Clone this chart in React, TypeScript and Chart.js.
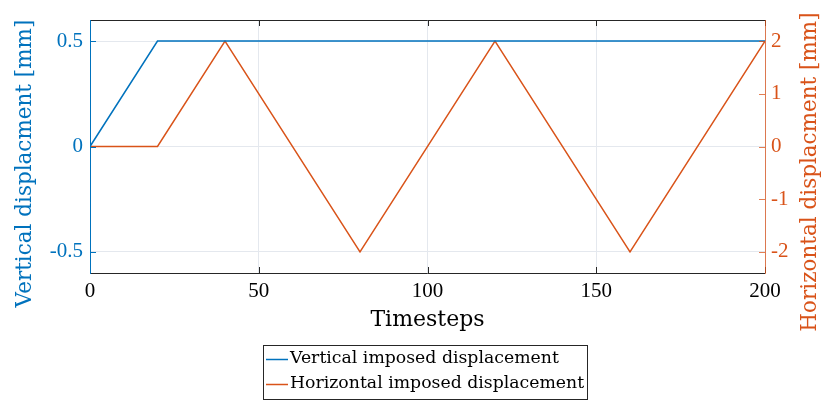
import React, { useEffect, useRef } from "react";
import { Chart, registerables } from "chart.js";

Chart.register(...registerables);

const timesteps = [0, 20, 40, 80, 120, 160, 200];
const verticalX = [0, 20, 200];
const verticalY = [0, 0.5, 0.5];
const horizontalY = [0, 0, 2, -2, 2, -2, 2];
const xTicks = [0, 50, 100, 150, 200];
const leftTicks = [-0.5, 0, 0.5];
const rightTicks = [-2, -1, 0, 1, 2];
const seriesLabels = ["Vertical imposed displacement", "Horizontal imposed displacement"];

const BLUE = "#0072BD";
const ORANGE = "#D95319";
const DARK = "#262626";
const FONT = "'DejaVu Serif', serif";
const TICK_FONT = "'Liberation Serif', serif";

const W = 825;
const H = 401;

const decorPlugin = {
  id: "decor",
  afterDraw(chart: any) {
    const { ctx, chartArea } = chart;
    const { left, right, top, bottom } = chartArea;
    const xs = chart.scales.x;
    const yl = chart.scales.y;
    const yr = chart.scales.y2;
    const tl = 6;
    ctx.save();
    ctx.lineWidth = 1;
    // top & bottom axes
    ctx.strokeStyle = DARK;
    ctx.beginPath();
    ctx.moveTo(left, top + 0.5);
    ctx.lineTo(right, top + 0.5);
    ctx.moveTo(left, bottom + 0.5);
    ctx.lineTo(right, bottom + 0.5);
    for (const t of xTicks) {
      const px = Math.round(xs.getPixelForValue(t)) + 0.5;
      ctx.moveTo(px, bottom);
      ctx.lineTo(px, bottom - tl);
      ctx.moveTo(px, top);
      ctx.lineTo(px, top + tl);
    }
    ctx.stroke();
    // left axis
    ctx.strokeStyle = BLUE;
    ctx.beginPath();
    ctx.moveTo(left + 0.5, top);
    ctx.lineTo(left + 0.5, bottom + 1);
    for (const t of leftTicks) {
      const py = Math.round(yl.getPixelForValue(t)) + 0.5;
      ctx.moveTo(left, py);
      ctx.lineTo(left + tl, py);
    }
    ctx.stroke();
    // right axis
    ctx.strokeStyle = "rgba(217,83,25,0.75)";
    ctx.beginPath();
    ctx.moveTo(right + 0.5, top);
    ctx.lineTo(right + 0.5, bottom + 1);
    for (const t of rightTicks) {
      const py = Math.round(yr.getPixelForValue(t)) + 0.5;
      ctx.moveTo(right, py);
      ctx.lineTo(right - tl, py);
    }
    ctx.stroke();

    // axis titles
    ctx.fillStyle = BLUE;
    ctx.font = `21.5px ${FONT}`;
    ctx.textAlign = "center";
    ctx.textBaseline = "middle";
    ctx.save();
    ctx.translate(25, 163.5);
    ctx.rotate(-Math.PI / 2);
    ctx.fillText("Vertical displacment [mm]", 0, 0);
    ctx.restore();
    ctx.fillStyle = ORANGE;
    ctx.save();
    ctx.translate(810, 172);
    ctx.rotate(-Math.PI / 2);
    ctx.fillText("Horizontal displacment [mm]", 0, 0);
    ctx.restore();
    ctx.fillStyle = "#000";
    ctx.font = `22px ${FONT}`;
    ctx.fillText("Timesteps", (left + right) / 2, 320);

    // legend
    const lx = 263, ly = 345, lw = 324, lh = 54;
    ctx.fillStyle = "#fff";
    ctx.fillRect(lx, ly, lw, lh);
    ctx.strokeStyle = DARK;
    ctx.strokeRect(lx + 0.5, ly + 0.5, lw, lh);
    ctx.font = `17.3px ${FONT}`;
    ctx.textAlign = "left";
    const cols = [BLUE, ORANGE];
    seriesLabels.forEach((lab, i) => {
      const yy = 359 + i * 25;
      ctx.strokeStyle = cols[i];
      ctx.lineWidth = 1.5;
      ctx.beginPath();
      ctx.moveTo(266, yy + 0.5);
      ctx.lineTo(288, yy + 0.5);
      ctx.stroke();
      ctx.fillStyle = "#000";
      ctx.fillText(lab, 290, yy);
    });
    ctx.restore();
  },
};

export default function App() {
  const ref = useRef<HTMLCanvasElement | null>(null);
  useEffect(() => {
    if (!ref.current) return;
    const chart = new Chart(ref.current, {
      type: "line",
      data: {
        datasets: [
          {
            label: seriesLabels[0],
            data: verticalX.map((x, i) => ({ x, y: verticalY[i] })),
            borderColor: BLUE,
            borderWidth: 1.5,
            pointRadius: 0,
            yAxisID: "y",
            tension: 0,
          },
          {
            label: seriesLabels[1],
            data: timesteps.map((x, i) => ({ x, y: horizontalY[i] })),
            borderColor: ORANGE,
            borderWidth: 1.5,
            pointRadius: 0,
            yAxisID: "y2",
            tension: 0,
          },
        ],
      },
      options: {
        animation: false,
        responsive: false,
        maintainAspectRatio: false,
        events: [],
        layout: { padding: { top: 20, left: 0, right: 0, bottom: 0 } },
        plugins: { legend: { display: false }, tooltip: { enabled: false } },
        scales: {
          x: {
            type: "linear",
            min: 0,
            max: 200,
            afterBuildTicks: (s: any) => {
              s.ticks = xTicks.map((v) => ({ value: v }));
            },
            afterFit: (s: any) => {
              s.height = 128;
            },
            ticks: { color: "#000", font: { family: TICK_FONT, size: 21 }, padding: 6, maxRotation: 0 },
            grid: { drawTicks: false, color: "#e4e8ee", lineWidth: 1 },
            border: { display: false },
          },
          y: {
            position: "left",
            min: -0.6,
            max: 0.6,
            afterBuildTicks: (s: any) => {
              s.ticks = leftTicks.map((v) => ({ value: v }));
            },
            afterFit: (s: any) => {
              s.width = 90;
            },
            ticks: { color: BLUE, font: { family: TICK_FONT, size: 21 }, padding: 7 },
            grid: { drawTicks: false, color: "#e4e8ee", lineWidth: 1 },
            border: { display: false },
          },
          y2: {
            position: "right",
            min: -2.4,
            max: 2.4,
            afterBuildTicks: (s: any) => {
              s.ticks = rightTicks.map((v) => ({ value: v }));
            },
            afterFit: (s: any) => {
              s.width = 60;
            },
            ticks: { color: ORANGE, font: { family: TICK_FONT, size: 21 }, padding: 6 },
            grid: { display: false, drawTicks: false },
            border: { display: false },
          },
        },
      },
      plugins: [decorPlugin],
    } as any);
    return () => chart.destroy();
  }, []);
  return (
    <div style={{ position: "fixed", left: 0, top: 0, width: W, height: H, background: "#fff" }}>
      <canvas ref={ref} width={W} height={H} style={{ width: W, height: H, display: "block" }} />
    </div>
  );
}
